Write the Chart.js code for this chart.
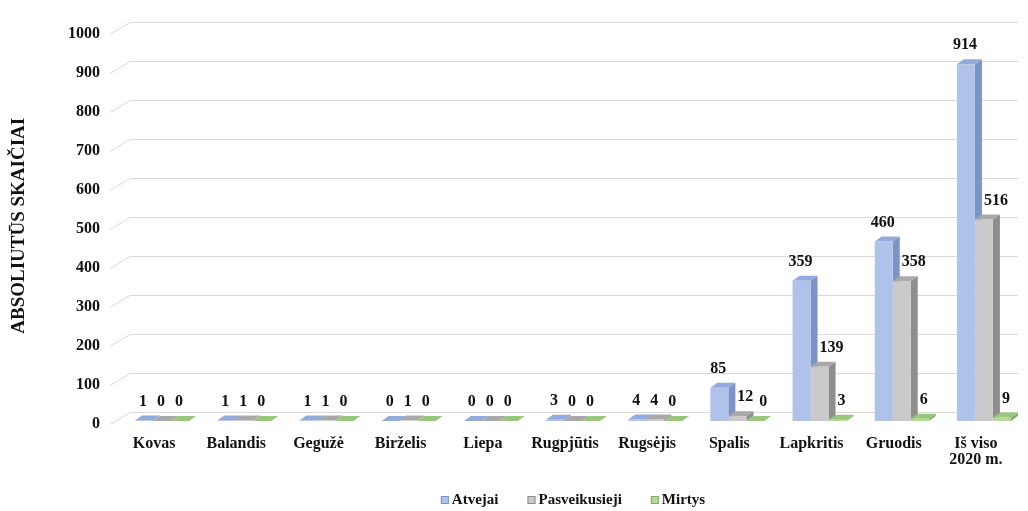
<!DOCTYPE html>
<html>
<head>
<meta charset="utf-8">
<script src="https://cdn.jsdelivr.net/npm/chart.js@4/dist/chart.umd.min.js"></script>
<style>
    html, body { margin: 0; padding: 0; background: #fff; }
    #wrap { width: 1028px; height: 511px; position: relative; }
</style>
</head>
<body>
<div id="wrap"><canvas id="covidChart"></canvas></div>
<script>
var months = ['Kovas', 'Balandis', 'Gegužė', 'Birželis', 'Liepa', 'Rugpjūtis', 'Rugsėjis',
    'Spalis', 'Lapkritis', 'Gruodis', ['Iš viso', '2020 m.']];
var cases = [1, 1, 1, 0, 0, 3, 4, 85, 359, 460, 914];
var recovered = [0, 1, 1, 1, 0, 0, 4, 12, 139, 358, 516];
var deaths = [0, 0, 0, 0, 0, 0, 0, 0, 3, 6, 9];
var seriesNames = ['Atvejai', 'Pasveikusieji', 'Mirtys'];
var yTicks = [0, 100, 200, 300, 400, 500, 600, 700, 800, 900, 1000];

(function () {
    var FONT = '"Liberation Serif", "Times New Roman", serif';
    var BAR_DX = 7, BAR_DY = 5;        // bar depth
    var WALL_DX = 9, WALL_DY = 9;      // back wall offset from front plane
    var GRID_RIGHT = 1018;

    var faces = [
        { front: '#AFC3EA', side: '#7C93C8', top: '#93AADA' },
        { front: '#CACACA', side: '#8E8E8E', top: '#A9A9A9' },
        { front: '#B3D89A', side: '#7FAE62', top: '#98C77C' }
    ];

    function poly(ctx, pts, color) {
        ctx.beginPath();
        ctx.moveTo(pts[0][0], pts[0][1]);
        for (var k = 1; k < pts.length; k++) ctx.lineTo(pts[k][0], pts[k][1]);
        ctx.closePath();
        ctx.fillStyle = color;
        ctx.fill();
    }

    // back wall grid + bar sides/tops, drawn under the front faces
    var depthPlugin = {
        id: 'depth3d',
        beforeDatasetsDraw: function (chart) {
            var ctx = chart.ctx;
            var area = chart.chartArea;
            var y = chart.scales.y;
            ctx.save();
            ctx.strokeStyle = '#D9D9D9';
            ctx.lineWidth = 1;
            yTicks.forEach(function (v) {
                var py = Math.round(y.getPixelForValue(v)) + 0.5;
                ctx.beginPath();
                ctx.moveTo(area.left - 11, py + 3);
                ctx.lineTo(area.left + WALL_DX, py - WALL_DY);
                ctx.lineTo(GRID_RIGHT, py - WALL_DY);
                ctx.stroke();
            });

            for (var i = 0; i < months.length; i++) {
                chart.data.datasets.forEach(function (ds, d) {
                    var bar = chart.getDatasetMeta(d).data[i];
                    var l = bar.x - bar.width / 2, r = bar.x + bar.width / 2;
                    var t = bar.y, b = bar.base;
                    poly(ctx, [[r, t], [r + BAR_DX, t - BAR_DY], [r + BAR_DX, b - BAR_DY], [r, b]], faces[d].side);
                    poly(ctx, [[l, t], [l + BAR_DX, t - BAR_DY], [r + BAR_DX, t - BAR_DY], [r, t]], faces[d].top);
                });
            }
            ctx.restore();
        },
        afterDatasetsDraw: function (chart) {
            var ctx = chart.ctx;
            ctx.save();
            ctx.font = 'bold 16px ' + FONT;
            ctx.fillStyle = '#111';
            ctx.textBaseline = 'bottom';
            ctx.textAlign = 'left';
            for (var i = 0; i < months.length; i++) {
                var boxes = [];
                chart.data.datasets.forEach(function (ds, d) {
                    var bar = chart.getDatasetMeta(d).data[i];
                    var txt = String(ds.data[i]);
                    var w = ctx.measureText(txt).width;
                    var yb = bar.y - BAR_DY - 6;
                    var left = bar.x - 1 - w / 2;
                    // keep clear of taller bars and labels to the left
                    for (var e = 0; e < d; e++) {
                        var eb = chart.getDatasetMeta(e).data[i];
                        if (eb.y - BAR_DY < yb) left = Math.max(left, eb.x + eb.width / 2 + BAR_DX + 2);
                    }
                    boxes.forEach(function (bx) {
                        if (bx.bottom > yb - 15 && bx.bottom - 15 < yb) left = Math.max(left, bx.right + 6);
                    });
                    ctx.fillText(txt, left, yb);
                    boxes.push({ right: left + w, bottom: yb });
                });
            }

            // legend
            ctx.font = 'bold 15px ' + FONT;
            ctx.textBaseline = 'middle';
            var area = chart.chartArea;
            var widths = seriesNames.map(function (n) { return 8 + 3 + ctx.measureText(n).width; });
            var total = widths.reduce(function (a, b) { return a + b; }, 0) + 29 * (seriesNames.length - 1);
            var x = (area.left + area.right) / 2 - total / 2;
            var ly = 500;
            seriesNames.forEach(function (n, d) {
                ctx.fillStyle = faces[d].front;
                ctx.fillRect(x, ly - 4, 8, 8);
                ctx.strokeStyle = faces[d].side;
                ctx.lineWidth = 1;
                ctx.strokeRect(x + 0.5, ly - 3.5, 7, 7);
                ctx.fillStyle = '#111';
                ctx.fillText(n, x + 11, ly);
                x += widths[d] + 29;
            });
            ctx.restore();
        }
    };

    function initChart() {
        var canvas = document.getElementById('covidChart');
        new Chart(canvas, {
            type: 'bar',
            data: {
                labels: months,
                datasets: [
                    { label: seriesNames[0], data: cases, backgroundColor: faces[0].front },
                    { label: seriesNames[1], data: recovered, backgroundColor: faces[1].front },
                    { label: seriesNames[2], data: deaths, backgroundColor: faces[2].front }
                ]
            },
            options: {
                responsive: true,
                maintainAspectRatio: false,
                animation: false,
                datasets: { bar: { categoryPercentage: 0.657, barPercentage: 1, borderWidth: 0 } },
                layout: { padding: { top: 24, right: 3, bottom: 0, left: 0 } },
                plugins: {
                    legend: { display: false },
                    tooltip: { enabled: false }
                },
                scales: {
                    x: {
                        grid: { display: false, drawTicks: false },
                        border: { display: false },
                        ticks: {
                            padding: 14,
                            labelOffset: -8,
                            maxRotation: 0,
                            autoSkip: false,
                            color: '#111',
                            font: { family: FONT, size: 16, weight: 'bold', lineHeight: 1.05 }
                        },
                        afterFit: function (scale) { scale.height = 90; }
                    },
                    y: {
                        min: 0,
                        max: 1000,
                        grid: { display: false, drawTicks: false },
                        border: { display: false },
                        afterBuildTicks: function (scale) {
                            scale.ticks = yTicks.map(function (v) { return { value: v }; });
                        },
                        ticks: {
                            padding: 21,
                            labelOffset: 3,
                            color: '#111',
                            font: { family: FONT, size: 16, weight: 'bold' },
                            callback: function (value) { return String(value); }
                        },
                        title: {
                            display: true,
                            text: 'ABSOLIUTŪS SKAIČIAI',
                            color: '#111',
                            padding: { top: 8, bottom: 0 },
                            font: { family: FONT, size: 19, weight: 'bold' }
                        },
                        afterFit: function (scale) { scale.width = 121; }
                    }
                }
            },
            plugins: [depthPlugin]
        });
    }

    if (document.readyState === 'loading') {
        document.addEventListener('DOMContentLoaded', initChart);
    } else {
        initChart();
    }
})();
</script>
</body>
</html>
